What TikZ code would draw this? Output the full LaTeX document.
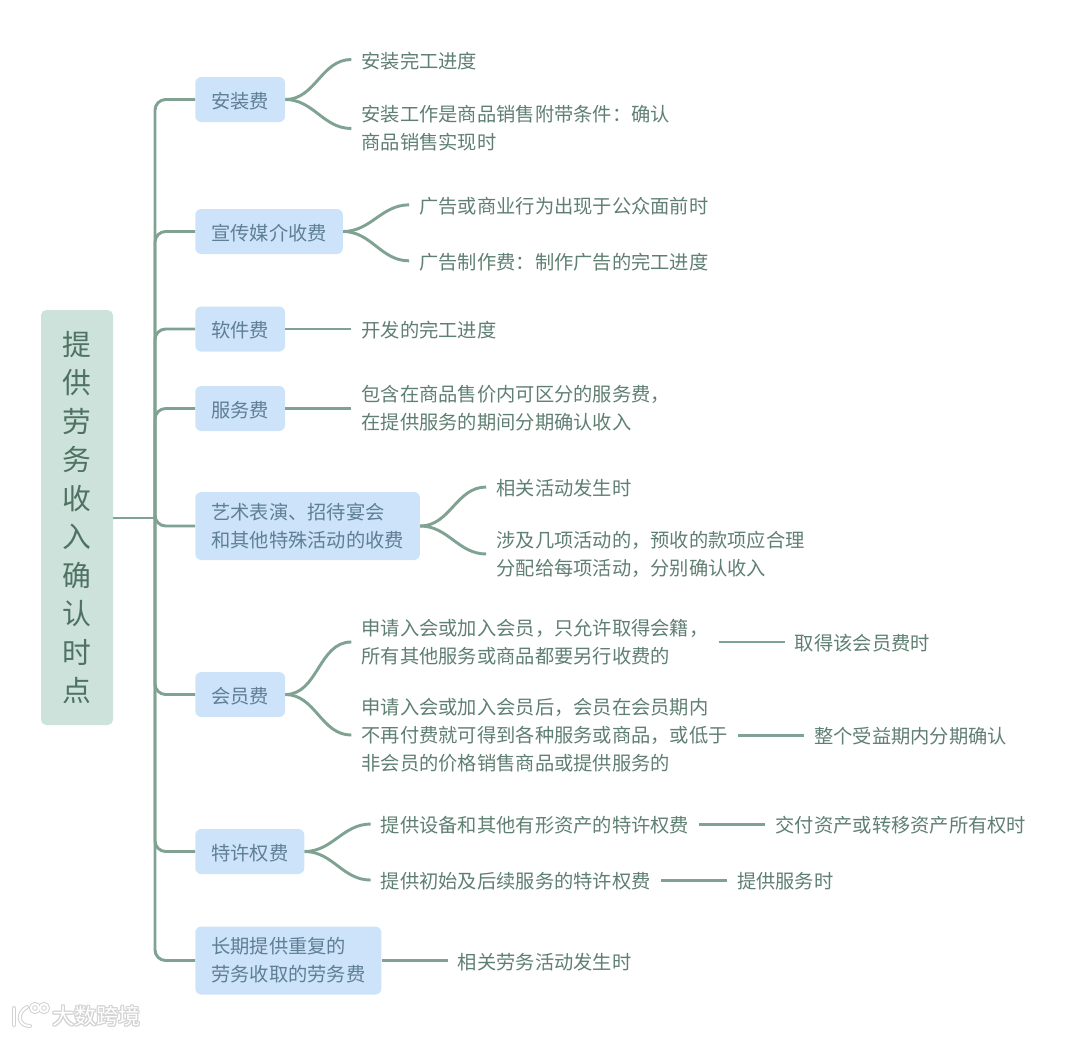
\documentclass[tikz,border=0pt]{standalone}
\usepackage{fontspec}
\setmainfont{Noto Sans CJK SC}
\usepackage{xcolor}
\usetikzlibrary{positioning}
\definecolor{linegreen}{HTML}{7FA292}
\definecolor{rootfill}{HTML}{CDE2DB}
\definecolor{rootink}{HTML}{4F7264}
\definecolor{topicfill}{HTML}{CCE3F9}
\definecolor{topicink}{HTML}{5F7F96}
\definecolor{leafink}{HTML}{5F7F72}
\newcommand{\fwcomma}{\char"FF0C\relax}
\newcommand{\fwcolon}{\char"FF1A\relax}

\begin{document}
\begin{tikzpicture}[
  x=0.75pt, y=-0.75pt,
  root/.style={rectangle, fill=rootfill, rounded corners=4pt, text=rootink, align=center,
               minimum width=54pt, minimum height=311.25pt, inner sep=0pt,
               font=\fontsize{21.6}{28.9}\selectfont},
  topic/.style={rectangle, fill=topicfill, rounded corners=4.5pt, text=topicink, align=left,
                minimum height=33.75pt, inner xsep=12pt, inner ysep=0pt, anchor=west,
                font=\fontsize{14.45}{21}\selectfont},
  tall/.style={minimum height=51pt},
  leaf/.style={rectangle, text=leafink, align=left, inner xsep=7.5pt, inner ysep=0pt,
               font=\fontsize{14.45}{21}\selectfont},
  single/.style={align=none, text height=13pt, text depth=0pt},
  trunk/.style={draw=linegreen, line width=2.2pt, rounded corners=8pt},
  twig/.style={draw=linegreen, line width=2.2pt},
  markglow/.style={text=gray!35, font=\fontsize{16.5}{16.5}\selectfont},
  markface/.style={text=white, font=\fontsize{16.5}{16.5}\selectfont},
  node distance=49.5pt
]
  \useasboundingbox (0,0) rectangle (1080,1036);

  \node[root] (root) at (77,517.5) {提\\供\\劳\\务\\收\\入\\确\\认\\时\\点};
  \coordinate (spine) at (155,518);

  \node[topic, single] (install)   at (195,99.5)  {安装费};
  \node[topic, single] (media)     at (195,231.5) {宣传媒介收费};
  \node[topic, single] (software)  at (195,329)   {软件费};
  \node[topic, single] (service)   at (195,408.5) {服务费};
  \node[topic, tall]   (art)       at (195,526)   {艺术表演、招待宴会\\和其他特殊活动的收费};
  \node[topic, single] (member)    at (195,694.5) {会员费};
  \node[topic, single] (franchise) at (195,851.5) {特许权费};
  \node[topic, tall]   (longterm)  at (195,960.5) {长期提供重复的\\劳务收取的劳务费};

  \node[leaf, single] (installa)  [right=of install, yshift=30pt]     {安装完工进度};
  \node[leaf]         (installb)  [right=of install, yshift=-21.75pt] {安装工作是商品销售附带条件\fwcolon 确认\\商品销售实现时};
  \node[leaf, single] (mediaa)    [right=of media, yshift=20pt]       {广告或商业行为出现于公众面前时};
  \node[leaf, single] (mediab)    [right=of media, yshift=-22pt]      {广告制作费\fwcolon 制作广告的完工进度};
  \node[leaf, single] (softa)     [right=of software]                 {开发的完工进度};
  \node[leaf]         (servicea)  [right=of service]                  {包含在商品售价内可区分的服务费\fwcomma\\在提供服务的期间分期确认收入};
  \node[leaf, single] (arta)      [right=of art, yshift=29.25pt]      {相关活动发生时};
  \node[leaf]         (artb)      [right=of art, yshift=-21pt]        {涉及几项活动的\fwcomma 预收的款项应合理\\分配给每项活动\fwcomma 分别确认收入};
  \node[leaf]         (membera)   [right=of member, yshift=39.4pt]    {申请入会或加入会员\fwcomma 只允许取得会籍\fwcomma\\所有其他服务或商品都要另行收费的};
  \node[leaf]         (memberb)   [right=of member, yshift=-30.4pt]   {申请入会或加入会员后\fwcomma 会员在会员期内\\不再付费就可得到各种服务或商品\fwcomma 或低于\\非会员的价格销售商品或提供服务的};
  \node[leaf, single] (membera2)  [right=of membera]                  {取得该会员费时};
  \node[leaf, single] (memberb2)  [right=of memberb]                  {整个受益期内分期确认};
  \node[leaf, single] (franchisea)  [right=of franchise, yshift=20.6pt]  {提供设备和其他有形资产的特许权费};
  \node[leaf, single] (franchiseb)  [right=of franchise, yshift=-21.4pt] {提供初始及后续服务的特许权费};
  \node[leaf, single] (franchisea2) [right=of franchisea]             {交付资产或转移资产所有权时};
  \node[leaf, single] (franchiseb2) [right=of franchiseb]             {提供服务时};
  \node[leaf, single] (longa)     [right=of longterm]                 {相关劳务活动发生时};

  % watermark
  \foreach \dx/\dy in {-1/0, 1/0, 0/-1, 0/1, -1/-1, 1/1, -1/1, 1/-1}
    \node[markglow] at (96+\dx,1016+\dy) {大数跨境};
  \node[markface] (mark) at (96,1016) {大数跨境};
  \foreach \c/\w in {gray!35/3pt, white/1.5pt} {
    \draw[\c, line width=\w, line cap=round] (14,1008) -- (14,1025);
    \draw[\c, line width=\w, line cap=round] (27,1007) .. controls (17,1012) and (17,1026) .. (30,1026);
    \draw[\c, line width=\w] (35,1008) circle (4);
    \draw[\c, line width=\w] (44,1008) circle (4);
  }

  \draw[trunk] (root.east |- spine) -- (spine);
  \foreach \t in {install, media, software, service, art, member, franchise, longterm}
    \draw[trunk] (spine) |- (\t.west);

  \foreach \a/\b in {install/installa, install/installb, media/mediaa, media/mediab,
                     art/arta, art/artb, member/membera, member/memberb,
                     franchise/franchisea, franchise/franchiseb}
    \draw[twig] (\a.east) to[out=0, in=180] (\b.west);

  \draw[twig] (software) -- (softa);
  \draw[twig] (service) -- (servicea);
  \draw[twig] (membera) -- (membera2);
  \draw[twig] (memberb) -- (memberb2);
  \draw[twig] (franchisea) -- (franchisea2);
  \draw[twig] (franchiseb) -- (franchiseb2);
  \draw[twig] (longterm) -- (longa);
\end{tikzpicture}
\end{document}
